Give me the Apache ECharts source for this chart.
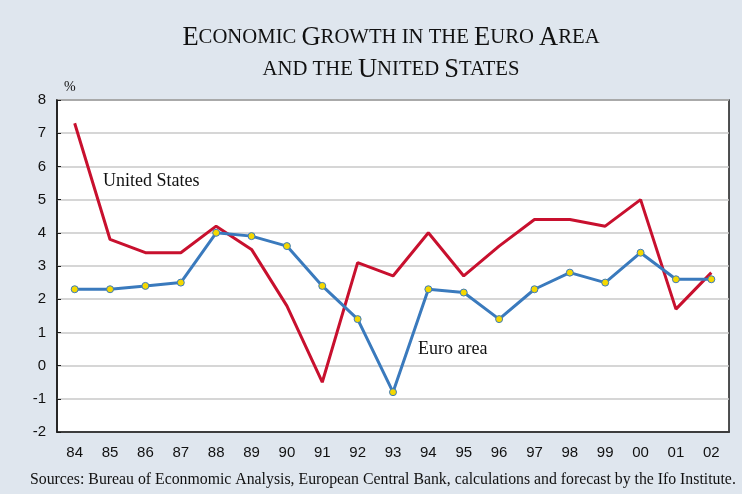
<!DOCTYPE html>
<html><head><meta charset="utf-8">
<script src="https://cdn.jsdelivr.net/npm/echarts@6/dist/echarts.min.js"></script>
<style>html,body{margin:0;padding:0;background:#dfe6ee}#c{width:742px;height:494px}</style>
</head><body><div id="c"></div>
<script>
const years = ['84','85','86','87','88','89','90','91','92','93','94','95','96','97','98','99','00','01','02'];
const usGrowth = [7.3,3.8,3.4,3.4,4.2,3.5,1.8,-0.5,3.1,2.7,4.0,2.7,3.6,4.4,4.4,4.2,5.0,1.7,2.8];
const euroGrowth = [2.3,2.3,2.4,2.5,4.0,3.9,3.6,2.4,1.4,-0.8,2.3,2.2,1.4,2.3,2.8,2.5,3.4,2.6,2.6];

const chart = echarts.init(document.getElementById('c'), null, {renderer:'canvas'});
const serif = '"Liberation Serif", "Times New Roman", serif';
const sans = '"Liberation Sans", Arial, sans-serif';
chart.setOption({
  backgroundColor:'#dfe6ee',
  animation:false,
  grid:{left:57,right:13,top:100,bottom:62,show:true,borderColor:'#1a1a1a',borderWidth:1.5,backgroundColor:'#fff'},
  xAxis:{
    type:'category', data:years, boundaryGap:true,
    axisLine:{onZero:false,lineStyle:{color:'#1a1a1a',width:1.5}},
    axisTick:{inside:true,length:4,interval:0,lineStyle:{color:'#1a1a1a'}},
    axisLabel:{fontFamily:sans,fontSize:15,color:'#111',margin:13,interval:0}
  },
  yAxis:{
    type:'value', min:-2, max:8, interval:1,
    axisLine:{show:true,lineStyle:{color:'#1a1a1a',width:1.5}},
    axisTick:{show:true,inside:true,length:4,lineStyle:{color:'#1a1a1a'}},
    axisLabel:{fontFamily:sans,fontSize:15,color:'#111',margin:11},
    splitLine:{show:true,lineStyle:{color:'#c8c8c8',width:1.5}}
  },
  graphic:[
    {type:'text',x:391,y:22,style:{
      text:'{b|E}{s|CONOMIC }{b|G}{s|ROWTH IN THE }{b|E}{s|URO }{b|A}{s|REA}\n{s|AND THE }{b|U}{s|NITED }{b|S}{s|TATES}',
      align:'center',
      rich:{
        b:{fontFamily:serif,fontSize:26.5,fontWeight:'normal',fill:'#111',lineHeight:32,align:'center'},
        s:{fontFamily:serif,fontSize:20.7,fontWeight:'normal',fill:'#111',lineHeight:32,align:'center'}
      }}},
    {type:'text',left:64,top:80,style:{text:'%',font:'14px '+serif,fill:'#111'}},
    {type:'text',left:103,top:172,style:{text:'United States',font:'18px '+serif,fill:'#111'}},
    {type:'text',left:418,top:340,style:{text:'Euro area',font:'18px '+serif,fill:'#111'}},
    {type:'text',left:30,top:472,style:{text:'Sources: Bureau of Econmomic Analysis, European Central Bank, calculations and forecast by the Ifo Institute.',font:'15.8px '+serif,fill:'#111'}}
  ],
  series:[
    {name:'United States',type:'line',data:usGrowth,symbol:'none',lineStyle:{color:'#c8102e',width:3},z:2},
    {name:'Euro area',type:'line',data:euroGrowth,symbol:'circle',symbolSize:7,
     lineStyle:{color:'#3a7abd',width:3},itemStyle:{color:'#f5d800',borderColor:'#3a7abd',borderWidth:1},z:3}
  ]
});
</script></body></html>
